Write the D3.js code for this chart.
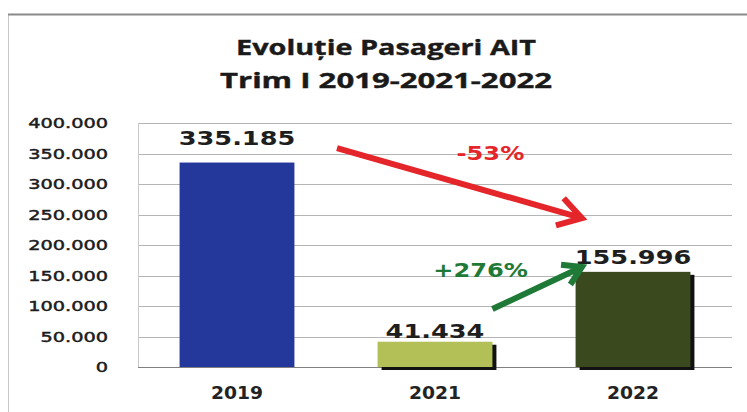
<!DOCTYPE html>
<html>
<head>
<meta charset="utf-8">
<script src="https://cdn.jsdelivr.net/npm/d3@7"></script>
<style>
  body { margin: 0; background: #fff; }
  svg { display: block; }
</style>
</head>
<body>
<svg id="chart" width="747" height="412"></svg>
<script>
/*
 * Passenger evolution, Q1 2019 / 2021 / 2022, drawn as a bar chart.
 */

var categories = ["2019", "2021", "2022"];
var passengers = [335185, 41434, 155996];
var valueLabels = ["335.185", "41.434", "155.996"];
// where each value label sits, in passengers
var labelValues = [364000, 47500, 169000];

var yTicks = [0, 50000, 100000, 150000, 200000, 250000, 300000, 350000, 400000];
var yTickLabels = ["0", "50.000", "100.000", "150.000", "200.000", "250.000", "300.000", "350.000", "400.000"];

var titleLines = ["Evoluție Pasageri AIT", "Trim I 2019-2021-2022"];

// change annotations: position in band units (0..3) and passengers
var changeLabels = ["-53%", "+276%"];
var changeAt = [[1.78, 339000], [1.73, 147500]];
var arrowFrom = [[1.005, 359000], [1.79, 95000]];
var arrowTo = [[2.242, 244000], [2.242, 164000]];

var barColor = d3.scaleOrdinal().domain(categories).range(["#24379a", "#b3bf57", "#3a4a1e"]);
var changeColor = ["#e4262b", "#1e7a36"];

var svg = d3.select("#chart"),
  margin = {top: 123, right: 15, bottom: 45, left: 138},
  width = +svg.attr("width") - margin.left - margin.right,
  height = +svg.attr("height") - margin.top - margin.bottom;

function stretched(sel, x, y, txt, sx, anchor) {
  /* Text squeezed out sideways, the reference is wider than the font. */
  return sel.append("text")
    .attr("transform", "translate(" + x + "," + y + ") scale(" + sx + ",1)")
    .attr("text-anchor", anchor)
    .text(txt);
}

function arrowPath(x1, y1, x2, y2, head) {
  var a = Math.atan2(y2 - y1, x2 - x1);
  var s = 0.55;
  var lx = x2 - head * Math.cos(a - s), ly = y2 - head * Math.sin(a - s);
  var rx = x2 - head * Math.cos(a + s), ry = y2 - head * Math.sin(a + s);
  return "M" + x1 + "," + y1 + "L" + x2 + "," + y2 +
    "M" + lx + "," + ly + "L" + x2 + "," + y2 + "L" + rx + "," + ry;
}

// outer frame
svg.append("path")
  .attr("d", "M8.5,412V14.5H747")
  .attr("fill", "none")
  .attr("stroke", "#c8c8c8")
  .attr("stroke-width", 1);
svg.append("line")
  .attr("x1", 8).attr("x2", 747).attr("y1", 14.5).attr("y2", 14.5)
  .attr("stroke", "#8a8a8a")
  .attr("stroke-width", 2);

// title
svg.selectAll(".title")
  .data(titleLines)
  .enter()
  .append("text")
    .attr("class", "title")
    .attr("x", 386)
    .attr("y", function(d, i) { return 55 + i * 33; })
    .attr("text-anchor", "middle")
    .attr("font-family", "'Open Sans', Lato, sans-serif")
    .attr("font-weight", 700)
    .attr("font-size", 22)
    .attr("fill", "#1a1a1a")
    .attr("stroke", "#1a1a1a")
    .attr("stroke-width", 0.4)
    .attr("textLength", function(d, i) { return i === 0 ? 300 : 332; })
    .attr("lengthAdjust", "spacingAndGlyphs")
    .text(function(d) { return d; });

var x = d3.scaleBand().domain(categories).range([0, width]).paddingInner(0.42).paddingOuter(0.21);
var xPos = d3.scaleLinear().domain([0, categories.length]).range([0, width]);
var y = d3.scaleLinear().domain([0, 400000]).range([height, 0]);

var g = svg.append("g")
  .attr("transform", "translate(" + margin.left + "," + margin.top + ")");

// grid
g.selectAll(".grid")
  .data(yTicks)
  .enter()
  .append("line")
    .attr("class", "grid")
    .attr("x1", 0).attr("x2", width)
    .attr("y1", function(d) { return Math.round(y(d)) + 0.5; })
    .attr("y2", function(d) { return Math.round(y(d)) + 0.5; })
    .attr("stroke", function(d) { return d === 0 ? "#808080" : "#b4b4b4"; })
    .attr("stroke-width", 1);
g.append("line")
  .attr("x1", 0.5).attr("x2", 0.5).attr("y1", 0).attr("y2", height)
  .attr("stroke", "#c8c8c8");

// Y axis labels
var yAxis = g.append("g")
  .attr("font-family", "'DejaVu Sans', Verdana, sans-serif")
  .attr("font-size", 14)
  .attr("fill", "#1c1c1c")
  .attr("stroke", "#1c1c1c")
  .attr("stroke-width", 0.45);
yTicks.forEach(function(t, i) {
  stretched(yAxis, -30, y(t) + 5, yTickLabels[i], 1.38, "end");
});

// bar shadows, then bars
g.selectAll(".shadow")
  .data(passengers)
  .enter()
  .filter(function(d, i) { return i > 0; })
  .append("rect")
    .attr("class", "shadow")
    .attr("x", function(d, i) { return x(categories[i + 1]) + 4; })
    .attr("y", function(d) { return y(d) + 3; })
    .attr("width", x.bandwidth())
    .attr("height", function(d) { return height - y(d); })
    .attr("fill", "#111");

g.selectAll(".bar")
  .data(passengers)
  .enter()
  .append("rect")
    .attr("class", "bar")
    .attr("x", function(d, i) { return x(categories[i]); })
    .attr("y", function(d) { return y(d); })
    .attr("width", x.bandwidth())
    .attr("height", function(d) { return height - y(d); })
    .attr("fill", function(d, i) { return barColor(categories[i]); });

// value labels
var vals = g.append("g")
  .attr("font-family", "'DejaVu Sans', Verdana, sans-serif")
  .attr("font-weight", "bold")
  .attr("font-size", 20)
  .attr("fill", "#1e1e1e");
valueLabels.forEach(function(t, i) {
  stretched(vals, x(categories[i]) + x.bandwidth() / 2, y(labelValues[i]), t, 1.28, "middle");
});

// X axis labels
var xAxis = g.append("g")
  .attr("font-family", "'DejaVu Sans', Verdana, sans-serif")
  .attr("font-weight", "bold")
  .attr("font-size", 17)
  .attr("fill", "#222");
categories.forEach(function(c) {
  stretched(xAxis, x(c) + x.bandwidth() / 2, height + 32, c, 1.1, "middle");
});

// change arrows and labels
changeLabels.forEach(function(t, i) {
  g.append("path")
    .attr("d", arrowPath(xPos(arrowFrom[i][0]), y(arrowFrom[i][1]),
                         xPos(arrowTo[i][0]), y(arrowTo[i][1]), i === 0 ? 27 : 21))
    .attr("fill", "none")
    .attr("stroke", changeColor[i])
    .attr("stroke-width", 6)
    .attr("stroke-linejoin", "miter");
  stretched(g, xPos(changeAt[i][0]), y(changeAt[i][1]), t, 1.27, "middle")
    .attr("font-family", "'DejaVu Sans', Verdana, sans-serif")
    .attr("font-weight", "bold")
    .attr("font-size", 19)
    .attr("fill", changeColor[i]);
});
</script>
</body>
</html>
